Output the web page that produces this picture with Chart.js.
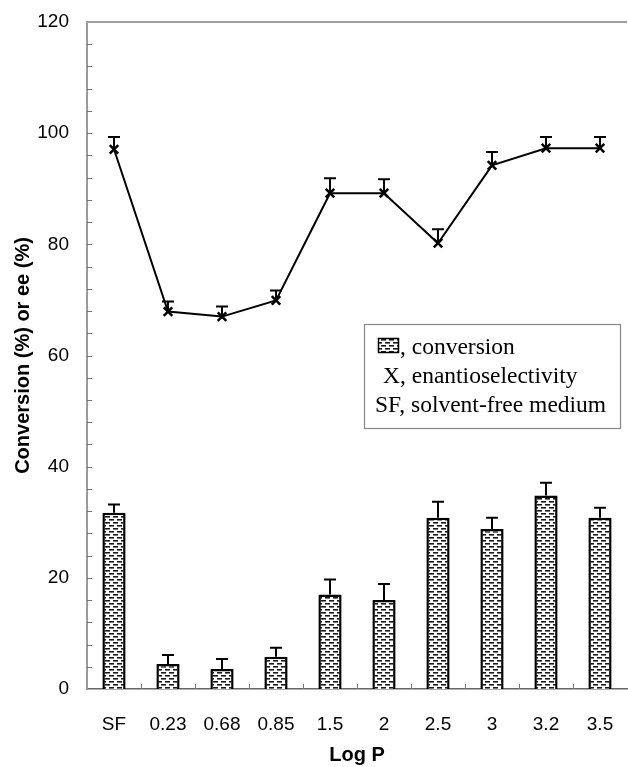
<!DOCTYPE html>
<html>
<head>
<meta charset="utf-8">
<script src="https://cdn.jsdelivr.net/npm/chart.js@4/dist/chart.umd.min.js"></script>
<style>
  html, body { margin: 0; padding: 0; background: #fff; }
  #wrap { width: 628px; height: 767px; position: relative; }
</style>
</head>
<body>
<div id="wrap"><canvas id="c" width="628" height="767"></canvas></div>
<script>
// ---- data ----
const categories = ['SF', '0.23', '0.68', '0.85', '1.5', '2', '2.5', '3', '3.2', '3.5'];
const conversion = [31.7, 4.5, 3.6, 5.8, 17.0, 16.0, 30.8, 28.8, 34.8, 30.8];
const conversionErr = [1.5, 1.6, 1.8, 1.6, 2.7, 2.9, 2.9, 2.0, 2.3, 1.8];
const enantioselectivity = [97.1, 67.9, 67.0, 69.9, 89.2, 89.2, 80.2, 94.2, 97.3, 97.3];
const enantioErr = [2.2, 1.8, 1.8, 1.8, 2.7, 2.5, 2.5, 2.4, 2.0, 2.0];
const legendLines = [', conversion', 'X, enantioselectivity', 'SF, solvent-free medium'];
const xTitle = 'Log P';
const yTitle = 'Conversion (%) or ee (%)';

// ---- pattern fill for bars ----
function makePattern() {
  const p = document.createElement('canvas');
  p.width = 8; p.height = 6;
  const g = p.getContext('2d');
  g.fillStyle = '#ffffff';
  g.fillRect(0, 0, 8, 6);
  g.fillStyle = '#1a1a1a';
  g.fillRect(1, 0, 5, 1.6);
  g.fillRect(5, 3, 5, 1.6);
  g.fillRect(-3, 3, 5, 1.6);
  return document.getElementById('c').getContext('2d').createPattern(p, 'repeat');
}
const pattern = makePattern();

const decorPlugin = {
  id: 'decor',
  afterDraw(chart) {
    const ctx = chart.ctx;
    const ca = chart.chartArea;
    const xs = chart.scales.x, ys = chart.scales.y;
    ctx.save();
    // top border
    ctx.strokeStyle = '#a0a0a0';
    ctx.lineWidth = 2;
    ctx.beginPath();
    ctx.moveTo(ca.left - 1, ca.top);
    ctx.lineTo(ca.right, ca.top);
    ctx.stroke();
    // inner y ticks every 4
    ctx.strokeStyle = '#777';
    ctx.lineWidth = 1;
    for (let v = 4; v < 120; v += 4) {
      const y = Math.round(ys.getPixelForValue(v)) + 0.5;
      ctx.beginPath();
      ctx.moveTo(ca.left, y);
      ctx.lineTo(ca.left + 5, y);
      ctx.stroke();
    }
    // inner x ticks at category boundaries
    const n = categories.length;
    for (let i = 1; i < n; i++) {
      const x = Math.round((xs.getPixelForValue(i - 1) + xs.getPixelForValue(i)) / 2) + 0.5;
      ctx.beginPath();
      ctx.moveTo(x, ca.bottom);
      ctx.lineTo(x, ca.bottom - 5);
      ctx.stroke();
    }
    // error bars
    ctx.strokeStyle = '#000';
    ctx.lineWidth = 2;
    const drawErr = (metaIdx, vals, errs) => {
      const meta = chart.getDatasetMeta(metaIdx);
      meta.data.forEach((el, i) => {
        const x = el.x;
        const y0 = ys.getPixelForValue(vals[i]);
        const y1 = ys.getPixelForValue(vals[i] + errs[i]);
        ctx.beginPath();
        ctx.moveTo(x, y0);
        ctx.lineTo(x, y1);
        ctx.moveTo(x - 6, y1);
        ctx.lineTo(x + 6, y1);
        ctx.stroke();
      });
    };
    drawErr(0, conversion, conversionErr);
    drawErr(1, enantioselectivity, enantioErr);

    // legend box
    const bx = 364, by = 324, bw = 256, bh = 104;
    ctx.fillStyle = '#fff';
    ctx.fillRect(bx, by, bw, bh);
    ctx.strokeStyle = '#888';
    ctx.lineWidth = 1.2;
    ctx.strokeRect(bx + 0.5, by + 0.5, bw, bh);
    // swatch
    ctx.fillStyle = pattern;
    ctx.fillRect(378, 338, 21, 15);
    ctx.strokeStyle = '#000';
    ctx.lineWidth = 1.5;
    ctx.strokeRect(378.5, 338.5, 20, 14);
    ctx.fillStyle = '#000';
    ctx.font = '23.5px "Liberation Serif", "Times New Roman", serif';
    ctx.textBaseline = 'alphabetic';
    ctx.textAlign = 'left';
    ctx.fillText(legendLines[0], 400, 354);
    ctx.fillText(legendLines[1], 383, 383);
    ctx.fillText(legendLines[2], 375, 412);
    ctx.restore();
  }
};

function zeroPad(s) {
  s.paddingTop = 0; s.paddingBottom = 0; s.paddingLeft = 0; s.paddingRight = 0;
}

new Chart(document.getElementById('c'), {
  type: 'bar',
  data: {
    labels: categories,
    datasets: [
      {
        type: 'bar',
        label: 'conversion',
        data: conversion,
        backgroundColor: pattern,
        borderColor: '#000',
        borderWidth: 2.5,
        categoryPercentage: 1.0,
        barPercentage: 0.43,
        order: 2
      },
      {
        type: 'line',
        label: 'enantioselectivity',
        data: enantioselectivity,
        borderColor: '#000',
        borderWidth: 2,
        tension: 0,
        pointStyle: 'crossRot',
        pointRadius: 6,
        pointBorderWidth: 2.5,
        pointBorderColor: '#000',
        pointBackgroundColor: '#000',
        fill: false,
        order: 1
      }
    ]
  },
  options: {
    responsive: false,
    animation: false,
    devicePixelRatio: 1,
    layout: { autoPadding: false, padding: { top: 22, right: 1, left: 0, bottom: 0 } },
    plugins: { legend: { display: false }, tooltip: { enabled: false } },
    scales: {
      x: {
        offset: true,
        grid: { display: false, drawTicks: false },
        border: { display: true, color: '#666', width: 1.5 },
        ticks: {
          color: '#000',
          padding: 24,
          maxRotation: 0,
          autoSkip: false,
          font: { family: '"Liberation Sans", Arial, sans-serif', size: 19 }
        },
        title: {
          display: true,
          text: xTitle,
          color: '#000',
          padding: { top: 0, bottom: 0 },
          font: { family: '"Liberation Sans", Arial, sans-serif', size: 20, weight: 'bold' }
        },
        afterFit(s) { s.height = 78; zeroPad(s); }
      },
      y: {
        min: 0,
        max: 120,
        grid: { display: false, drawTicks: false },
        border: { display: true, color: '#999', width: 2 },
        ticks: {
          stepSize: 20,
          color: '#000',
          padding: 18,
          font: { family: '"Liberation Sans", Arial, sans-serif', size: 19 }
        },
        title: {
          display: true,
          text: yTitle,
          color: '#000',
          padding: { top: 11, bottom: 0 },
          font: { family: '"Liberation Sans", Arial, sans-serif', size: 20, weight: 'bold' }
        },
        afterFit(s) { s.width = 87; zeroPad(s); }
      }
    }
  },
  plugins: [decorPlugin]
});
</script>
</body>
</html>
